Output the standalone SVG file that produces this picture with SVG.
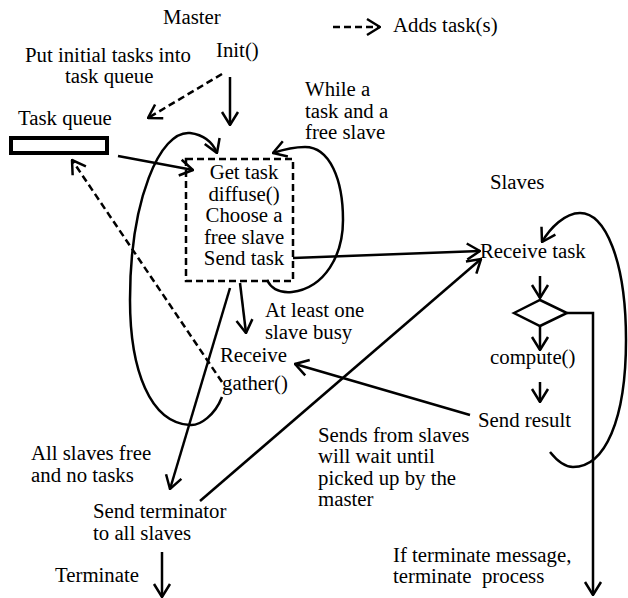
<svg xmlns="http://www.w3.org/2000/svg" width="628" height="598" viewBox="0 0 628 598">
<style>
.c{text-anchor:middle}
.ln{fill:none;stroke:#000;stroke-width:2.5}
.d{stroke-dasharray:7,4}
</style>
<defs>
<marker id="arr" viewBox="0 0 16 20" refX="15" refY="10" markerWidth="16" markerHeight="20" markerUnits="userSpaceOnUse" orient="auto">
<path d="M2,2 L15,10 L2,18" fill="none" stroke="#000" stroke-width="2.5"/>
</marker>
</defs>
<rect width="628" height="598" fill="#fff"/>
<g font-family="Liberation Serif, serif" font-size="20.8" fill="#000">

<g id="legend">
<line class="ln d" x1="333" y1="27" x2="380" y2="27" marker-end="url(#arr)"/>
<text x="393" y="32">Adds task(s)</text>
</g>

<g id="master-label"><text x="163" y="24">Master</text></g>
<g id="init"><text x="216" y="57">Init()</text></g>
<g id="init-note"><text x="25" y="62">Put initial tasks into<tspan x="65" y="83">task queue</tspan></text></g>

<g id="task-queue">
<text x="18" y="125">Task queue</text>
<rect x="11" y="138" width="96" height="15" fill="#fff" stroke="#000" stroke-width="4"/>
</g>

<g id="while-note"><text x="305" y="96">While a<tspan x="305" y="117.5">task and a</tspan><tspan x="305" y="139">free slave</tspan></text></g>

<g id="dispatch">
<rect class="ln d" x="186" y="159" width="107" height="122"/>
<text class="c" x="244" y="179">Get task<tspan x="244" y="200.5">diffuse()</tspan><tspan x="244" y="222">Choose a</tspan><tspan x="244" y="243.5">free slave</tspan><tspan x="244" y="265">Send task</tspan></text>
</g>

<g id="busy-note"><text x="265" y="317">At least one<tspan x="265" y="338.5">slave busy</tspan></text></g>

<g id="receive-gather"><text x="220" y="362">Receive</text><text x="222" y="390">gather()</text></g>

<g id="all-free-note"><text x="31" y="460">All slaves free<tspan x="31" y="482">and no tasks</tspan></text></g>

<g id="send-terminator"><text x="93" y="518">Send terminator<tspan x="93" y="540">to all slaves</tspan></text></g>

<g id="terminate"><text x="55" y="582">Terminate</text></g>

<g id="sends-note"><text x="318" y="442">Sends from slaves<tspan x="318" y="463">will wait until</tspan><tspan x="318" y="484.5">picked up by the</tspan><tspan x="318" y="506">master</tspan></text></g>

<g id="slaves-label"><text x="490" y="189">Slaves</text></g>
<g id="receive-task"><text x="480" y="258">Receive task</text></g>
<g id="decision"><polygon class="ln" points="514,313 540,300 567,313 540,326"/></g>
<g id="compute"><text x="490" y="364">compute()</text></g>
<g id="send-result"><text x="478" y="427">Send result</text></g>
<g id="terminate-note"><text x="393" y="562" xml:space="preserve">If terminate message,<tspan x="393" y="583">terminate  process</tspan></text></g>
</g>

<g id="connectors">
<line class="ln" x1="230" y1="77" x2="230" y2="125" marker-end="url(#arr)"/>
<line class="ln d" x1="222" y1="74" x2="148" y2="118" marker-end="url(#arr)"/>
<line class="ln" x1="118" y1="156" x2="193" y2="170" marker-end="url(#arr)"/>
<path class="ln" d="M222,397 C215,415 200,426 190,425 C150,423 130,370 130,300 C130,200 160,130 190,133 C205,135 213,143 217,153" marker-end="url(#arr)"/>
<path class="ln" d="M267,280 C272,290 282,293 292,292 C325,288 343,255 343,220 C343,180 330,147 305,147 C292,147 282,150 273,153" marker-end="url(#arr)"/>
<line class="ln" x1="293" y1="258" x2="480" y2="251" marker-end="url(#arr)"/>
<line class="ln" x1="240" y1="283" x2="246" y2="333" marker-end="url(#arr)"/>
<line class="ln" x1="230" y1="288" x2="170" y2="489" marker-end="url(#arr)"/>
<line class="ln" x1="200" y1="501" x2="481" y2="259" marker-end="url(#arr)"/>
<line class="ln" x1="470" y1="415" x2="295" y2="364" marker-end="url(#arr)"/>
<line class="ln d" x1="222" y1="382" x2="72" y2="160" marker-end="url(#arr)"/>
<line class="ln" x1="162" y1="552" x2="162" y2="597" marker-end="url(#arr)"/>
<line class="ln" x1="540" y1="276" x2="540" y2="298" marker-end="url(#arr)"/>
<line class="ln" x1="540" y1="326" x2="540" y2="350" marker-end="url(#arr)"/>
<line class="ln" x1="540" y1="382" x2="540" y2="402" marker-end="url(#arr)"/>
<path class="ln" d="M567,313 H593 V595" marker-end="url(#arr)"/>
<path class="ln" d="M550,452 C558,462 565,467 573,467 C605,467 626,420 626,340 C626,260 605,213 580,213 C565,213 550,228 542,242" marker-end="url(#arr)"/>
</g>
</svg>
